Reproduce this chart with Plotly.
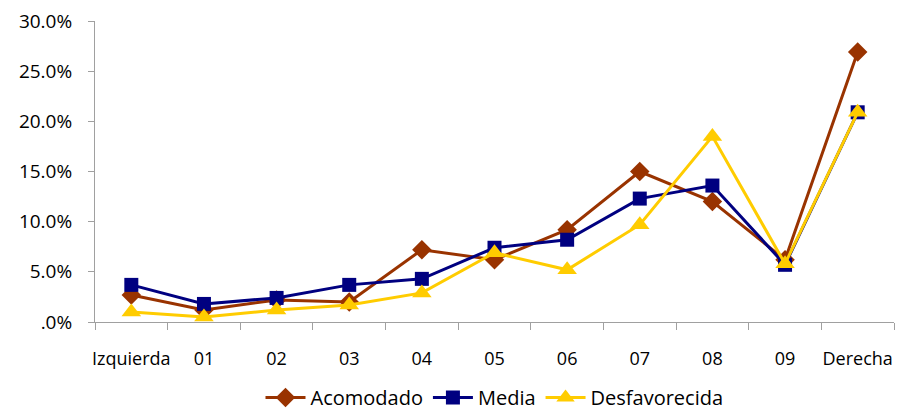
import plotly.graph_objects as go

categories = ["Izquierda", "01", "02", "03", "04", "05", "06", "07", "08", "09", "Derecha"]

acomodado = [2.7, 1.2, 2.2, 2.0, 7.2, 6.2, 9.2, 15.0, 12.0, 6.2, 26.9]
media = [3.7, 1.8, 2.4, 3.7, 4.3, 7.4, 8.2, 12.3, 13.6, 5.7, 20.9]
desfavorecida = [1.0, 0.5, 1.2, 1.7, 2.9, 6.9, 5.2, 9.7, 18.5, 5.8, 20.9]

y_tick_values = [0, 5, 10, 15, 20, 25, 30]
y_tick_labels = [".0%", "5.0%", "10.0%", "15.0%", "20.0%", "25.0%", "30.0%"]

FONT = "Open Sans"

series = [
    ("Acomodado", acomodado, "#993300", "diamond", 15),
    ("Media", media, "#000080", "square", 14),
    ("Desfavorecida", desfavorecida, "#FFCC00", "triangle-up", 17),
]

fig = go.Figure()
for name, values, color, symbol, size in series:
    fig.add_trace(go.Scatter(
        x=categories, y=values, name=name, mode="lines+markers",
        line=dict(color=color, width=3),
        marker=dict(symbol=symbol, size=size, color=color, line=dict(width=0)),
    ))

fig.update_layout(
    width=901, height=412,
    margin=dict(l=95, r=7, t=21, b=90, autoexpand=False),
    paper_bgcolor="white", plot_bgcolor="white",
    font=dict(family=FONT, size=18, color="#000000"),
    showlegend=True,
    legend=dict(orientation="h", x=0.5, xanchor="center",
                yref="container", y=0.035, yanchor="middle",
                font=dict(family=FONT, size=20), itemwidth=40, tracegroupgap=0),
)
fig.update_xaxes(
    type="category", range=[-0.5, 10.5], tickson="boundaries",
    tickangle=0, automargin=False, ticklabelstandoff=20,
    showline=True, linecolor="#A0A0A0", linewidth=1,
    ticks="outside", ticklen=7, tickcolor="#A0A0A0",
    showgrid=False, zeroline=False,
    tickfont=dict(family=FONT, size=18),
)
fig.update_yaxes(
    range=[0, 30], tickvals=y_tick_values, ticktext=y_tick_labels,
    automargin=False, ticklabelstandoff=12,
    showline=True, linecolor="#A0A0A0", linewidth=1,
    ticks="outside", ticklen=6, tickcolor="#A0A0A0",
    showgrid=False, zeroline=False,
    tickfont=dict(family=FONT, size=19),
)

fig.write_html("out.html")
